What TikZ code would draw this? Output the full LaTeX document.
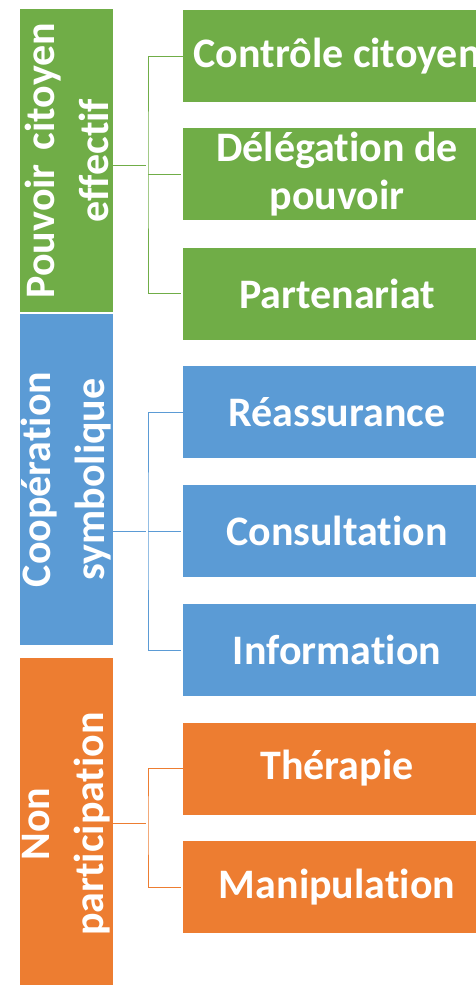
\documentclass[tikz,border=0pt]{standalone}
\usepackage{fontspec}
\setsansfont{Carlito}[Ligatures=NoCommon]
\definecolor{vertE}{HTML}{70AD47}
\definecolor{bleuE}{HTML}{5B9BD5}
\definecolor{orangeE}{HTML}{ED7D31}
\tikzset{
  echelon/.style={fill=#1, text=white, minimum width=308pt, minimum height=92pt, inner sep=0pt, align=center,
    font=\sffamily\bfseries\fontsize{42}{48}\selectfont},
  groupe/.style={fill=#1, text=white, rotate=90, minimum height=93pt, inner sep=0pt, align=center, text width=290pt,
    font=\sffamily\bfseries\fontsize{42}{54}\selectfont},
  lien/.style={draw=#1, line width=0.8pt, shorten >=2pt}
}
\begin{document}
\begin{tikzpicture}[x = 1pt, y = -1pt]
  \useasboundingbox (0,0) rectangle (476,985);
  \clip (0,0) rectangle (476,985);
  % groupes (bandes verticales)
  \node[groupe=vertE, minimum width=303pt] (pce) at (66.5,160.5) {Pouvoir citoyen\\effectif};
  \node[groupe=bleuE, minimum width=331pt] (cps) at (66.5,479.5) {Coopération\\symbolique};
  \node[groupe=orangeE, minimum width=332pt] (npa) at (66.5,824) {Non\\participation};
  % échelons
  \node[echelon=vertE] (ctl) at (337,56) {Contrôle citoyen};
  \node[echelon=vertE] (dlg) at (337,174) {Délégation de\\pouvoir};
  \node[echelon=vertE] (prt) at (337,293.5) {Partenariat};
  \node[echelon=bleuE] (ras) at (337,412) {Réassurance};
  \node[echelon=bleuE] (cns) at (337,531) {Consultation};
  \node[echelon=bleuE] (inf) at (337,650) {Information};
  \node[echelon=orangeE] (thr) at (337,768.5) {Thérapie};
  \node[echelon=orangeE] (man) at (337,887) {Manipulation};
  % liens
  \coordinate (jv) at (148,165);
  \coordinate (jb) at (148,531);
  \coordinate (jo) at (148,823);
  \draw[lien=vertE] (pce.south |- jv) -- (jv);
  \draw[lien=vertE] (ctl.west) -| (jv) |- (prt.west);
  \draw[lien=vertE] (dlg.west -| jv) -- (dlg.west);
  \draw[lien=bleuE] (cps.south |- jb) -- (jb);
  \draw[lien=bleuE] (ras.west) -| (jb) |- (inf.west);
  \draw[lien=bleuE] (jb) -- (cns.west);
  \draw[lien=orangeE] (npa.south |- jo) -- (jo);
  \draw[lien=orangeE] (thr.west) -| (jo) |- (man.west);
\end{tikzpicture}
\end{document}
